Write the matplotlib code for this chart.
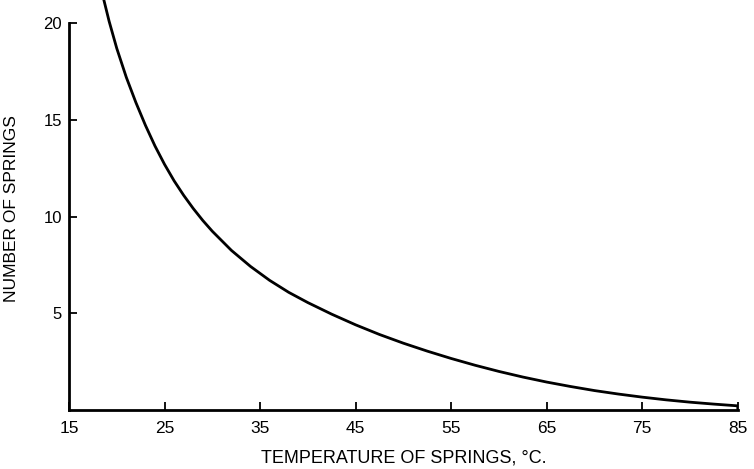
import matplotlib
matplotlib.use("Agg")
import matplotlib.pyplot as plt

# Values
temperature = [18.6, 19.2, 20.0, 21.0, 22.0, 23.0, 24.0, 25.0, 26.0, 27.0, 28.0,
               29.0, 30.0, 32.0, 34.0, 36.0, 38.0, 40.0, 42.5, 45.0, 47.5, 50.0,
               52.5, 55.0, 57.5, 60.0, 62.5, 65.0, 67.5, 70.0, 72.5, 75.0, 77.5,
               80.0, 82.5, 85.0, 85.0]
springs = [21.3, 20.1, 18.7, 17.2, 15.9, 14.72, 13.65, 12.7, 11.85, 11.1, 10.42,
           9.8, 9.24, 8.25, 7.42, 6.7, 6.08, 5.55, 4.95, 4.4, 3.9, 3.45,
           3.04, 2.66, 2.31, 1.99, 1.7, 1.44, 1.21, 1.0, 0.82, 0.66, 0.52,
           0.4, 0.3, 0.21, 0.0]

x_ticks = [15, 25, 35, 45, 55, 65, 75, 85]
y_ticks = [5, 10, 15, 20]

plt.rcParams['font.family'] = ['Liberation Sans', 'DejaVu Sans']

fig = plt.figure(figsize=(7.54, 4.69), dpi=100)
ax = fig.add_axes([0.0915, 0.126, 0.887, 0.874])

ax.plot(temperature, springs, color="black", lw=2.0,
        solid_joinstyle="round", solid_capstyle="butt")

ax.set_xlim(15, 85)
ax.set_ylim(0, 21.2)
ax.set_xticks(x_ticks)
ax.set_yticks(y_ticks)

ax.spines['top'].set_visible(False)
ax.spines['right'].set_visible(False)
ax.spines['left'].set_bounds(0, 20)
ax.spines['left'].set_linewidth(2.0)
ax.spines['bottom'].set_linewidth(2.0)

ax.tick_params(direction="in", length=6, width=1.3, color="black")
ax.tick_params(axis="x", pad=8, labelsize=12.5)
ax.tick_params(axis="y", pad=5, labelsize=12)

ax.set_xlabel("TEMPERATURE OF SPRINGS, °C.", fontsize=13, labelpad=10)
ax.set_ylabel("NUMBER OF SPRINGS", fontsize=12.5)
ax.yaxis.set_label_coords(-0.075, 0.49)

fig.savefig("out.png", dpi=100)
